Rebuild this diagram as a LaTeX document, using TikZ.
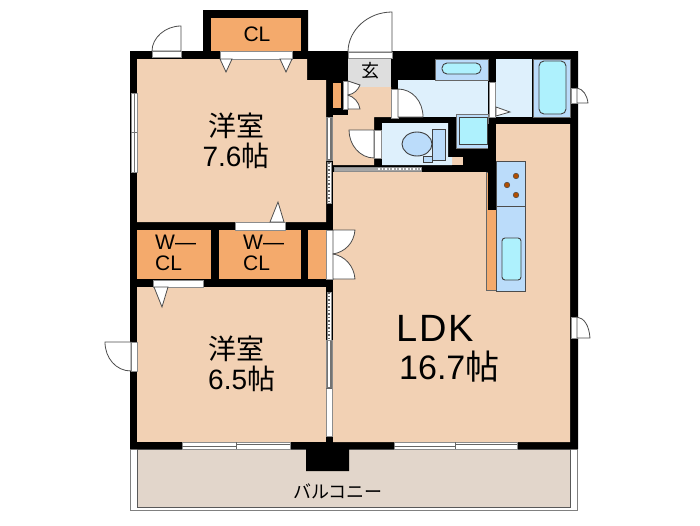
\documentclass[tikz,border=0pt]{standalone}
\usepackage{fontspec}
\setmainfont{Liberation Sans}
\newfontfamily\cjk{Noto Sans CJK JP}
\definecolor{roompeach}{HTML}{F2D1B4}
\definecolor{closetorange}{HTML}{F4AA6C}
\definecolor{wetpale}{HTML}{DEF0FC}
\definecolor{wetblue}{HTML}{BBDCFA}
\definecolor{wetcyan}{HTML}{AEF1FD}
\definecolor{balconygrey}{HTML}{E2D6CB}
\definecolor{hallgrey}{HTML}{DEDEDE}
\definecolor{burnerbrown}{HTML}{B04E00}
\tikzset{
    room/.style={fill=roompeach},
    closet/.style={fill=closetorange},
    leaf/.style={fill=white, draw=black!70, line width=0.8pt},
    pane/.style={fill=white, draw=black!45, line width=0.6pt},
    sash/.style={fill=black!55, draw=black!45, line width=0.6pt},
    fixture/.style={draw=black!75, line width=0.9pt},
    label/.style={inner sep=0pt, align=center},
}
\begin{document}
\begin{tikzpicture}[x=1pt, y=-1pt]
    \useasboundingbox (0,0) rectangle (700,525);
    % balcony
    \draw[black!50, line width=0.6pt] (130.5,449) rectangle (577.5,510);
    \draw[fill=balconygrey, draw=black!65, line width=0.9pt] (137,449) rectangle (570,507);
    % walls
    \fill (130,51) -- (203,51) -- (203,10) -- (308,10) -- (308,51) -- (578,51) -- (578,449)
        -- (349,449) -- (349,471) -- (306,471) -- (306,449) -- (130,449) -- cycle;
    % rooms
    \fill[room] (137,59) -- (307,59) -- (307,80) -- (326,80) -- (326,222) -- (137,222) -- cycle;
    \fill[room] (137,287) rectangle (326,442);
    \fill[room] (333,172) -- (488,172) -- (496,172) -- (496,124) -- (570,124) -- (570,442) -- (333,442) -- cycle;
    \fill[room] (348,87) -- (391,87) -- (391,117) -- (374,117) -- (374,165) -- (333,165) -- (333,115) -- (348,115) -- cycle;
    \fill[room] (452,157) rectangle (463,165);
    \fill[hallgrey] (348,59) rectangle (391,87);
    % closets
    \fill[closet] (211,18) rectangle (301,51);
    \fill[closet] (137,230) rectangle (211,279);
    \fill[closet] (219,230) rectangle (301,279);
    \fill[closet] (308,230) rectangle (326,279);
    \fill[closet] (333,83) rectangle (341,108);
    % washroom and bath
    \fill[wetpale] (398,80) rectangle (488,117);
    \fill[wetblue, draw=black!60, line width=0.7pt] (435,59) rectangle (488,80);
    \draw[fixture, fill=wetcyan, rounded corners=5pt] (442,63) rectangle (481,74);
    \fill[wetpale] (496,59) rectangle (532,117);
    \fill[wetblue, draw=black!60, line width=0.7pt] (533,59) rectangle (570,117);
    \draw[fixture, fill=wetcyan, rounded corners=5pt] (539,61) rectangle (566,114);
    \draw[fill=wetblue, draw=black!55, line width=1pt] (456,114) rectangle (488,148);
    \draw[fixture, fill=wetcyan] (459,117) rectangle (487,144);
    % toilet
    \fill[wetpale] (382,123) -- (448,123) -- (448,157) -- (452,157) -- (452,165) -- (382,165) -- cycle;
    \draw[fixture, fill=wetblue] (432,129) rectangle (445,160);
    \draw[fixture, fill=wetblue] (417,144) ellipse (15 and 12);
    \draw[fixture, fill=wetblue] (423,156) rectangle (432,162);
    % kitchen
    \fill[closetorange, draw=black!60, line width=0.6pt] (486,172) rectangle (496,290);
    \fill (488,124) rectangle (496,210);
    \draw[fill=wetblue, draw=black!70, line width=0.9pt] (496,161) rectangle (525,291);
    \draw[black!70, line width=0.9pt] (496,206) -- (525,206);
    \draw[fixture, fill=wetcyan, rounded corners=3pt] (502,238) rectangle (521,280);
    \foreach \bx/\by in {516/176, 507/185, 516/195}
        \draw[fill=burnerbrown, draw=black!70, line width=0.5pt] (\bx,\by) circle (2.8);
    % closet doors
    \draw[pane] (220,51) rectangle (292,59);
    \draw[leaf] (220,59) -- (232,59) -- (226,72) -- cycle;
    \draw[leaf] (280,59) -- (292,59) -- (286,72) -- cycle;
    \draw[pane] (235,222) rectangle (285,230);
    \draw[leaf] (270,222) -- (284,222) -- (278,202) -- cycle;
    \draw[pane] (153,280) rectangle (203,287);
    \draw[leaf] (154,287) -- (168,287) -- (162,307) -- cycle;
    \draw[pane] (326,230) rectangle (333,279);
    \draw[leaf] (333,230) -- (355,230) .. controls (354,243) and (345,252) .. (333,254) -- cycle;
    \draw[leaf] (333,279) -- (355,279) .. controls (354,266) and (345,256) .. (333,254) -- cycle;
    \draw[pane] (343,81) rectangle (348,109);
    \draw[leaf] (348,81) -- (360,85) .. controls (358,90) and (354,94) .. (348,95) -- cycle;
    \draw[leaf] (348,109) -- (360,109) .. controls (359,102) and (354,97) .. (348,95) -- cycle;
    % swing doors
    \draw[pane] (152,51) rectangle (181,57);
    \draw[leaf] (181,51) -- (181,26) .. controls (165,26) and (152,38) .. (152,51) -- cycle;
    \draw[pane] (348,52) rectangle (392,58);
    \draw[leaf] (392,52) -- (392,12) .. controls (368,12) and (348,30) .. (348,52) -- cycle;
    \draw[pane] (131,342) rectangle (137,371);
    \draw[leaf] (131,371) -- (131,342) -- (105,342) .. controls (105,358) and (116,371) .. (131,371) -- cycle;
    \draw[pane] (391,89) rectangle (398,118);
    \draw[leaf] (398,117) -- (398,89) .. controls (412,89) and (423,101) .. (423,117) -- cycle;
    \draw[pane] (374,130) rectangle (381,158);
    \draw[leaf] (374,158) -- (374,130) -- (349,130) .. controls (349,145) and (360,158) .. (374,158) -- cycle;
    \draw[pane] (489,82) rectangle (495,117);
    \draw[leaf] (496,107) -- (510,112) -- (496,116) -- cycle;
    \draw[pane] (571,88) rectangle (577,103);
    \draw[leaf] (577,88) .. controls (583,89) and (587,95) .. (588,103) -- (577,103) -- cycle;
    \draw[pane] (571,317) rectangle (577,338);
    \draw[leaf] (577,317) .. controls (584,318) and (589,325) .. (590,338) -- (577,338) -- cycle;
    % windows
    \draw[pane] (131,93) rectangle (137,172);
    \draw[black!55, line width=0.8pt] (134,93) -- (134,172);
    \draw[black!55, line width=0.6pt] (131,132) -- (137,132);
    \draw[sash] (326,117) rectangle (332,160);
    \draw[white, line width=2pt] (329,118) -- (329,159);
    \draw[pane] (327,162) rectangle (331,203);
    \draw[black!60, dotted, line width=1.5pt] (329,162) -- (329,203);
    \draw[pane] (327,292) rectangle (331,340);
    \draw[black!60, dotted, line width=1.5pt] (329,292) -- (329,340);
    \draw[sash] (326,340) rectangle (332,388);
    \draw[white, line width=2pt] (329,341) -- (329,387);
    \draw[pane] (326,388) rectangle (332,436);
    \draw[black!60, line width=1pt] (326,388) -- (332,388);
    \draw[pane, fill=black!35] (334,167) rectangle (421,171);
    \draw[white, dotted, line width=1.5pt] (378,169) -- (421,169);
    \draw[pane] (182,442) rectangle (290,449);
    \draw[black!60, line width=1.5pt] (182,446.5) -- (236,446.5);
    \draw[black!60, line width=0.8pt] (236,442) -- (236,449);
    \draw[black!60, line width=1.5pt] (236,444.5) -- (290,444.5);
    \draw[pane] (394,442) rectangle (517,449);
    \draw[black!60, line width=1.5pt] (394,446.5) -- (455,446.5);
    \draw[black!60, line width=0.8pt] (455,442) -- (455,449);
    \draw[black!60, line width=1.5pt] (455,444.5) -- (517,444.5);
    % labels
    \node[label, font=\fontsize{21}{21}\selectfont] (clTop) at (257,34) {CL};
    \node[label, align=left, anchor=west, font=\fontsize{21}{21}\selectfont] (wclLeft) at (155,253) {W---\\CL};
    \node[label, align=left, anchor=west, font=\fontsize{21}{21}\selectfont] (wclRight) at (243,253) {W---\\CL};
    \node[label, font=\fontsize{18}{18}\selectfont\cjk] (entrance) at (370,71) {玄};
    \node[label, font=\fontsize{28}{30}\selectfont] (roomUpper) at (236,141) {{\cjk 洋室}\\7.6{\cjk 帖}};
    \node[label, align=left, anchor=west, font=\fontsize{28}{30}\selectfont] (roomLower) at (208,364) {{\cjk 洋室}\\6.5{\cjk 帖}};
    \node[label, align=left, anchor=west, font=\fontsize{34}{38}\selectfont] (ldk) at (399,349)
        {\hspace{-3pt}{\addfontfeature{LetterSpace=5}\fontsize{38}{38}\selectfont LDK}\\16.7{\cjk 帖}};
    \node[label, font=\fontsize{18}{18}\selectfont\cjk] (balcony) at (338,491) {バルコニー};
\end{tikzpicture}
\end{document}
